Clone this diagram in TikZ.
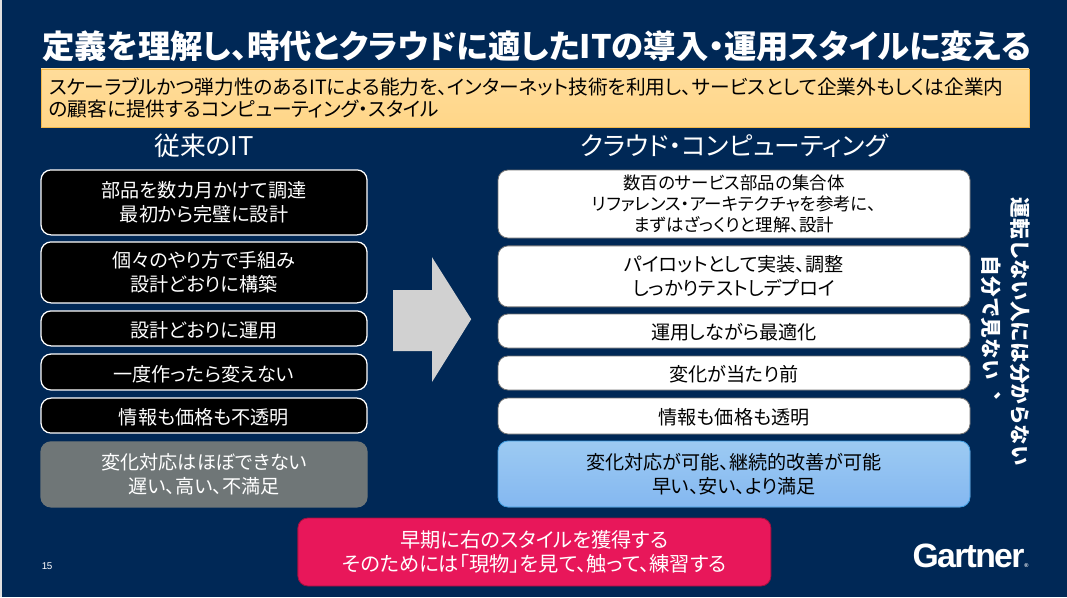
\documentclass[tikz,border=0pt]{standalone}
\usepackage{fontspec}
\setmainfont[RawFeature=+palt]{Noto Sans CJK JP}
\newfontfamily\vertfont[Vertical=RotatedGlyphs]{Noto Sans CJK JP}
\newfontfamily\logofont[LetterSpace=-5]{Liberation Sans}
\definecolor{slidebg}{HTML}{002856}
\definecolor{defyellow}{HTML}{FFD688}
\definecolor{defedge}{HTML}{F2B84B}
\definecolor{oldgrey}{HTML}{6F7677}
\definecolor{newblue}{HTML}{8BC1F0}
\definecolor{newedge}{HTML}{3E9BE0}
\definecolor{alertred}{HTML}{E8175A}
\newcommand{\bodyfont}{\fontsize{13.6}{17}\selectfont}
\tikzset{
  oldbox/.style={draw=white,line width=0.9pt,fill=black,text=white,rounded corners=0.25cm,minimum width=8.15cm,inner sep=0pt,align=center,font=\bodyfont,execute at begin node={\rule{0pt}{14.2pt}}},
  newbox/.style={draw=black!55,line width=0.6pt,fill=white,text=black,rounded corners=0.25cm,minimum width=11.8cm,inner sep=0pt,align=center,font=\bodyfont,execute at begin node={\rule{0pt}{13.6pt}}},
  colhead/.style={text=white,font=\fontsize{18.3}{20}\selectfont,inner sep=0pt},
  sidenote/.style={text=white,rotate=-90,inner sep=0pt,font=\fontsize{14.7}{16}\bfseries\vertfont}
}
\begin{document}
\begin{tikzpicture}
    \fill[slidebg] (0,0) rectangle (26.675,-14.925);
    \useasboundingbox (0,0) rectangle (26.675,-14.925);
    \fill[black!12] (0,0) rectangle (0.05,-14.925);
    \node[text=white,inner sep=0pt,font=\fontsize{23}{26}\bfseries\selectfont] (title) at (13.42,-1.15) {定義を理解し、時代とクラウドに適したITの導入・運用スタイルに変える};
    \node[draw=defedge,line width=0.6pt,top color=defyellow!85!white,bottom color=defyellow,minimum width=24.7cm,minimum height=1.45cm,inner sep=0pt,align=left,text width=24.3cm,font=\fontsize{14}{16}\selectfont] (define) at (13.375,-2.45) {スケーラブルかつ弾力性のあるITによる能力を、インターネット技術を利用し、サービスとして企業外もしくは企業内\\の顧客に提供するコンピューティング・スタイル};
    \node[colhead] (oldhead) at (5.1,-3.65) {従来のIT};
    \node[colhead] (newhead) at (18.35,-3.65) {クラウド・コンピューティング};
    \node[oldbox,minimum height=1.625cm] (old1) at (5.1,-5.06) {部品を数カ月かけて調達\\最初から完璧に設計};
    \node[oldbox,minimum height=1.525cm] (old2) at (5.1,-6.81) {個々のやり方で手組み\\設計どおりに構築};
    \node[oldbox,minimum height=0.875cm] (old3) at (5.1,-8.21) {設計どおりに運用};
    \node[oldbox,minimum height=0.9cm] (old4) at (5.1,-9.3) {一度作ったら変えない};
    \node[oldbox,minimum height=0.875cm] (old5) at (5.1,-10.39) {情報も価格も不透明};
    \node[oldbox,draw=oldgrey,fill=oldgrey,minimum height=1.625cm] (old6) at (5.1,-11.86) {変化対応はほぼできない\\遅い、高い、不満足};
    \node[newbox,minimum height=1.7cm,font=\fontsize{12.4}{15}\selectfont] (new1) at (18.35,-5.1) {数百のサービス部品の集合体\\リファレンス・アーキテクチャを参考に、\\まずはざっくりと理解、設計};
    \node[newbox,minimum height=1.525cm] (new2) at (18.35,-6.91) {パイロットとして実装、調整\\しっかりテストしデプロイ};
    \node[newbox,minimum height=0.85cm] (new3) at (18.35,-8.275) {運用しながら最適化};
    \node[newbox,minimum height=0.85cm] (new4) at (18.35,-9.325) {変化が当たり前};
    \node[newbox,minimum height=0.9cm] (new5) at (18.35,-10.4) {情報も価格も透明};
    \node[newbox,draw=newedge,top color=newblue!85!white,bottom color=newblue!95!blue,minimum height=1.65cm] (new6) at (18.35,-11.85) {変化対応が可能、継続的改善が可能\\早い、安い、より満足};
    \fill[black!18] (9.83,-7.25) -- (10.8,-7.25) -- (10.8,-6.43) -- (11.78,-7.98) -- (10.8,-9.55) -- (10.8,-8.78) -- (9.83,-8.78) -- cycle;
    \node[draw=alertred!70!black,line width=0.6pt,fill=alertred,text=white,rounded corners=0.25cm,minimum width=11.825cm,minimum height=1.7cm,inner sep=0pt,align=center,font=\fontsize{14.4}{17}\selectfont,execute at begin node={\rule{0pt}{15pt}}] (goal) at (13.36,-13.8) {早期に右のスタイルを獲得する\\そのためには「現物」を見て、触って、練習する};
    \node[sidenote] (note1) at (25.5,-8.3) {運転しない人には分からない};
    \node[sidenote] (note2) at (24.78,-8.2) {自分で見ない、};
    \node[text=white,inner sep=0pt,font=\fontsize{7}{8}\logofont] (pageno) at (1.18,-14.15) {15};
    \node[text=white,inner sep=0pt,anchor=east,font=\fontsize{24}{26}\bfseries\logofont] (logo) at (25.72,-13.9) {Gartner\raisebox{0pt}{\fontsize{4}{4}\selectfont ®}};
\end{tikzpicture}
\end{document}
